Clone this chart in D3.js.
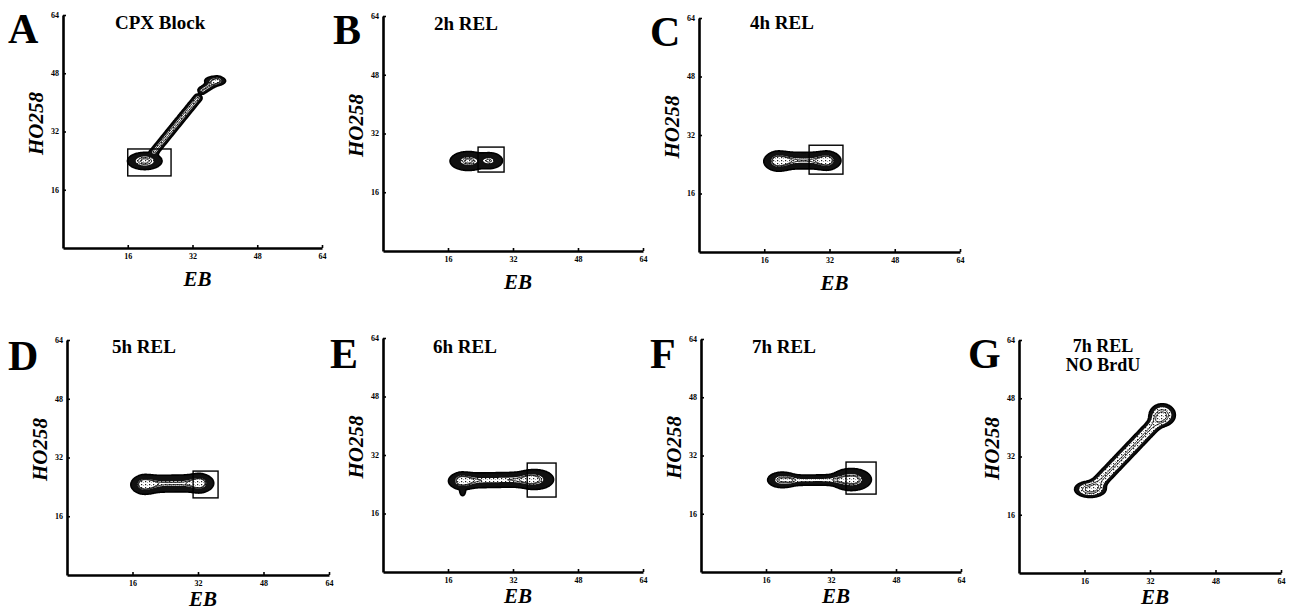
<!DOCTYPE html>
<html><head><meta charset="utf-8">
<script src="https://cdn.jsdelivr.net/npm/d3@7/dist/d3.min.js"></script>
<style>
html,body{margin:0;padding:0;background:#fff;}
svg{display:block;}
text{font-family:"Liberation Serif","Times New Roman",serif;}
</style></head>
<body>
<svg id="fig" width="1292" height="615"></svg>
<script>
// ---------------- DATA ----------------
const panelLetters = ["A","B","C","D","E","F","G"];
const panelTitles = [["CPX Block"],["2h REL"],["4h REL"],["5h REL"],["6h REL"],["7h REL"],["7h REL","NO BrdU"]];
const axisDomain = [0, 64];
const tickValues = [16, 32, 48, 64];
const xLabel = "EB";
const yLabel = "HO258";
// sort gates [xMin, xMax, yMin, yMax] in EB / HO258 units
const gates = [
  [16.0, 26.7, 19.8, 27.2],
  [23.4, 29.8, 21.5, 28.3],
  [27.0, 35.3, 21.3, 29.2],
  [30.8, 36.9, 21.0, 28.3],
  [35.5, 42.6, 20.5, 29.8],
  [35.7, 43.1, 21.4, 30.2],
  null
];
// cell populations: blobs [cx, cy, sx, sy, weight]
const blobsA = [[20.2, 23.9, 1.9, 1.05, 1.0], [37.6, 45.9, 1.2, 0.6, 0.8]];
const blobsB = [[21.0, 24.5, 2.0, 1.15, 1.0], [26.2, 24.6, 1.5, 1.0, 0.8]];
const blobsC = [[19.5, 24.8, 1.6, 1.15, 1.0], [31.5, 25.0, 1.5, 1.1, 0.9]];
const blobsD = [[19.0, 24.6, 1.5, 1.1, 1.0], [32.5, 25.0, 1.5, 1.1, 0.95]];
const blobsE = [[19.5, 24.9, 1.5, 1.0, 1.0], [37.5, 25.3, 2.0, 1.2, 1.0], [19.6, 22.0, 0.35, 0.6, 0.45]];
const blobsF = [[20.0, 25.3, 1.6, 0.95, 1.0], [37.0, 25.4, 2.2, 1.35, 1.0], [37.5, 25.2, 1.0, 0.6, 0.5]];
const blobsG = [[17.4, 23.0, 1.7, 1.0, 1.0], [35.0, 43.4, 1.45, 1.4, 0.9], [35.0, 43.0, 0.55, 0.5, 0.6]];
// ridges [x1, y1, x2, y2, s, weight]
const ridgesA = [[22.5, 26.4, 33.3, 41.2, 0.5, 0.75], [34.4, 43.3, 38.2, 46.0, 0.5, 0.7]];
const ridgesB = [];
const ridgesC = [[19.5, 25.0, 31.0, 25.0, 1.05, 0.8]];
const ridgesD = [[19.0, 24.8, 32.0, 25.0, 1.05, 0.85]];
const ridgesE = [[19.5, 25.0, 36.0, 25.3, 0.95, 0.75]];
const ridgesF = [[22.0, 25.2, 35.0, 25.3, 0.7, 0.6]];
const ridgesG = [[19.0, 24.3, 34.0, 42.0, 0.9, 0.55]];
const panelBlobs = [blobsA, blobsB, blobsC, blobsD, blobsE, blobsF, blobsG];
const panelRidges = [ridgesA, ridgesB, ridgesC, ridgesD, ridgesE, ridgesF, ridgesG];

// ---------------- LAYOUT / STYLE ----------------
const panelBoxes = [ // [xLeft, yTop, xRight, yBottom] px
  [63, 15, 322, 248], [383, 16, 643, 251], [699, 18, 960, 252],
  [67, 340, 329, 575], [383, 338, 643, 572], [701, 339, 961, 572], [1019, 340, 1281, 573]
];
const letterPos = [[8,43],[333,44],[650,46],[8,370],[330,368],[650,368],[968,368]];
const titleOffset = [[52,14],[51,14],[51,11],[45,13],[50,15],[51,14],[84,12]];
const xLabelOffset = [38,38,38,31,31,31,31];
const coreLevel = [0.5, 0.65, 0.68, 0.72, 0.62, 0.55, 0.28];
const outerLevel = 0.08;

const svg = d3.select("#fig");
const defs = svg.append("defs");
const pat = defs.append("pattern").attr("id","dots").attr("patternUnits","userSpaceOnUse")
  .attr("width",4).attr("height",3);
pat.append("rect").attr("width",4).attr("height",3).attr("fill","#fff");
pat.append("rect").attr("x",1).attr("y",1).attr("width",1.2).attr("height",1.2).attr("fill","#222");
pat.append("rect").attr("x",3).attr("y",2).attr("width",0.8).attr("height",0.8).attr("fill","#777");

const step = 0.2;
const n = Math.round(64/step) + 1;

function density(blobs, ridges){
  const v = new Float64Array(n*n);
  for (let j=0;j<n;j++){
    const y = j*step;
    for (let i=0;i<n;i++){
      const x = i*step;
      let s = 0;
      for (const b of blobs){
        const dx=(x-b[0])/b[2], dy=(y-b[1])/b[3];
        const e=dx*dx+dy*dy; if (e<40) s += b[4]*Math.exp(-e/2);
      }
      for (const r of ridges){
        const vx=r[2]-r[0], vy=r[3]-r[1];
        let t=((x-r[0])*vx+(y-r[1])*vy)/(vx*vx+vy*vy);
        t=Math.max(0,Math.min(1,t));
        const px=r[0]+t*vx-x, py=r[1]+t*vy-y;
        const e=(px*px+py*py)/(r[4]*r[4]); if (e<40) s += r[5]*Math.exp(-e/2);
      }
      v[j*n+i]=s;
    }
  }
  return v;
}

panelLetters.forEach((letter, p) => {
  const [x0,y0,x1,y1] = panelBoxes[p];
  const xs = d3.scaleLinear().domain(axisDomain).range([x0,x1]);
  const ys = d3.scaleLinear().domain(axisDomain).range([y1,y0]);
  const g = svg.append("g");

  // contours
  const vals = density(panelBlobs[p], panelRidges[p]);
  const cl = coreLevel[p];
  const levels = [outerLevel, cl, cl+(1-cl)*0.35, cl+(1-cl)*0.7];
  const conts = d3.contours().size([n,n]).thresholds(levels)(vals);
  const proj = d3.geoTransform({point(x,y){ this.stream.point(xs((x-0.5)*step), ys((y-0.5)*step)); }});
  const path = d3.geoPath(proj);
  const cg = g.append("g");
  conts.forEach((c,k) => {
    const el = cg.append("path").attr("d", path(c));
    if (k===0) el.attr("fill","#111").attr("stroke","#000").attr("stroke-width",1.6);
    else if (k===1) el.attr("fill","url(#dots)").attr("stroke","none");
    else el.attr("fill","none").attr("stroke","#111").attr("stroke-width",1);
  });

  // gate
  const gt = gates[p];
  if (gt){
    g.append("rect").attr("x",xs(gt[0])).attr("y",ys(gt[3]))
      .attr("width",xs(gt[1])-xs(gt[0])).attr("height",ys(gt[2])-ys(gt[3]))
      .attr("fill","none").attr("stroke","#000").attr("stroke-width",1.4);
  }

  // axes
  const ax = g.append("g").attr("transform",`translate(0,${y1})`)
    .call(d3.axisBottom(xs).tickValues(tickValues).tickSize(-3).tickSizeOuter(0).tickPadding(5));
  const ay = g.append("g").attr("transform",`translate(${x0},0)`)
    .call(d3.axisLeft(ys).tickValues(tickValues).tickSize(-3).tickSizeOuter(0).tickPadding(4));
  [ax,ay].forEach(a=>{
    a.select(".domain").attr("stroke","#000").attr("stroke-width",2.6);
    a.selectAll(".tick line").attr("stroke","#000").attr("stroke-width",1.6);
    a.selectAll(".tick text").attr("font-family","Liberation Serif").attr("font-weight","bold")
      .attr("font-size",8).attr("fill","#000");
  });
  ay.selectAll(".tick text").attr("dy","0.3em");

  // axis labels
  g.append("text").attr("x",(x0+x1)/2+5).attr("y",y1+xLabelOffset[p]).attr("text-anchor","middle")
    .attr("font-size",21).attr("font-weight","bold").attr("font-style","italic").text(xLabel);
  g.append("text").attr("transform",`translate(${x0-20},${(y0+y1)/2-8}) rotate(-90)`)
    .attr("text-anchor","middle").attr("font-size",21).attr("font-weight","bold")
    .attr("font-style","italic").text(yLabel);

  // letter & title
  g.append("text").attr("x",letterPos[p][0]).attr("y",letterPos[p][1])
    .attr("font-size",42).attr("font-weight","bold").text(letter);
  const tl = panelTitles[p];
  const multi = tl.length>1;
  tl.forEach((t,k)=>{
    g.append("text").attr("x",x0+titleOffset[p][0]).attr("y",y0+titleOffset[p][1]+k*19)
      .attr("text-anchor", multi?"middle":"start")
      .attr("font-size", multi?18:19).attr("font-weight","bold").text(t);
  });
});
</script>
</body></html>
